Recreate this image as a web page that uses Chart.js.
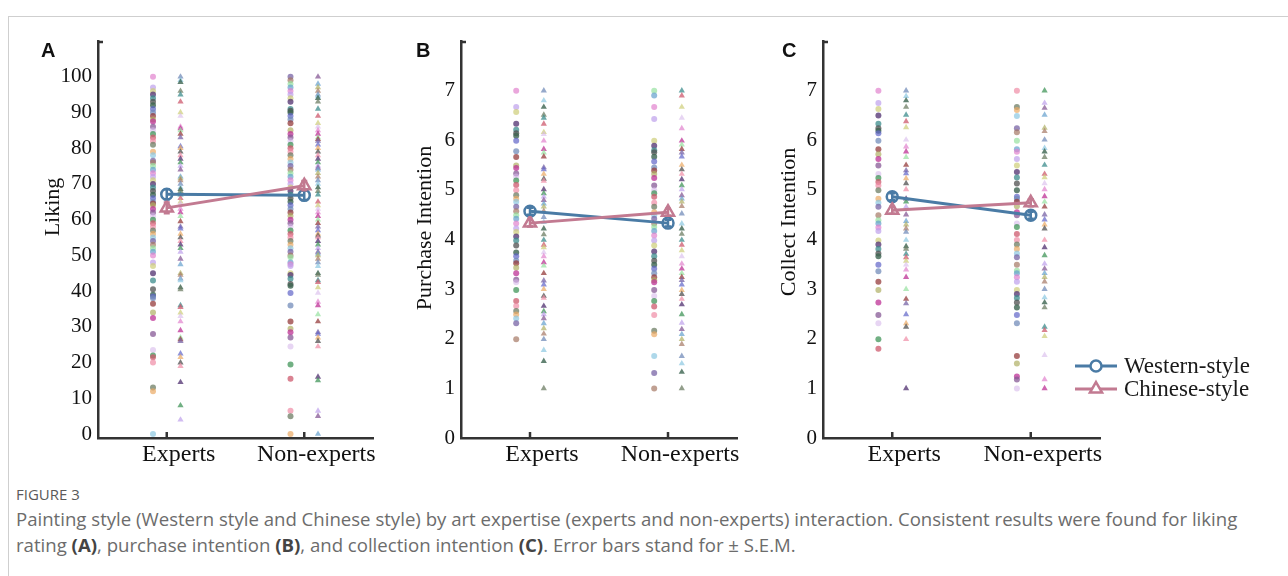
<!DOCTYPE html>
<html>
<head>
<meta charset="utf-8">
<script src="https://cdn.jsdelivr.net/npm/chart.js@4.4.1/dist/chart.umd.min.js"></script>
<style>
  body { margin: 0; background: #fff; }
  #page { position: relative; width: 1288px; height: 576px; overflow: hidden; }
  #frame { position: absolute; left: 8px; top: 16px; right: -4px; bottom: -4px;
           border-top: 1px solid #cfcfcf; border-left: 1px solid #cfcfcf; }
  canvas { position: absolute; top: 0; }
  .letter { position: absolute; top: 39px; font: bold 20px "Liberation Sans", Arial, sans-serif; color: #111; }
  #fig { position: absolute; left: 16px; top: 484px; font: 15px/20px "Open Sans", sans-serif; color: #5a5a5a; }
  #caption { position: absolute; left: 16px; top: 506px; font: 18.6px/26px "Open Sans", sans-serif;
             color: #6c6c6c; white-space: nowrap; }
  #caption b { color: #444; }
</style>
</head>
<body>
<div id="page">
  <div id="frame"></div>
  <canvas id="chartA" width="400" height="470" style="left:0px"></canvas>
  <canvas id="chartB" width="370" height="470" style="left:400px"></canvas>
  <canvas id="chartC" width="518" height="470" style="left:770px"></canvas>
  <div class="letter" style="left:41px">A</div>
  <div class="letter" style="left:416px">B</div>
  <div class="letter" style="left:782px">C</div>
  <div id="fig">FIGURE 3</div>
  <div id="caption">Painting style (Western style and Chinese style) by art expertise (experts and non-experts) interaction. Consistent results were found for liking<br>rating <b>(A)</b>, purchase intention <b>(B)</b>, and collection intention <b>(C)</b>. Error bars stand for ± S.E.M.</div>
</div>
<script>
const categories = ['Experts', 'Non-experts'];
const seriesNames = ['Western-style', 'Chinese-style'];

// Liking (A)
const likingWesternExperts = [100, 97, 96, 95, 94, 93, 92, 91, 90, 89, 88, 87.5, 86, 85, 84, 83, 82, 81, 79, 78, 76.5, 76, 75, 74, 73, 72, 71, 70, 69, 68, 67, 66, 65, 64.5, 64, 63, 62, 61, 60, 59, 58, 57, 56, 55, 54, 53, 52, 51, 50, 48, 47, 45, 43, 40.5, 39, 38.5, 38, 36.5, 34, 32.5, 28, 23.5, 22, 21.5, 20, 13, 12, 0];
const likingWesternNonExperts = [100, 99, 98, 97, 96, 95, 94, 93, 91, 90.5, 90, 89, 88, 87, 85, 84, 83, 82, 81, 80, 79, 78, 77, 76, 75, 74, 73, 72, 71, 70, 69, 68, 67, 66, 65, 64, 63, 62, 61, 60, 59, 58, 57, 56, 55, 54, 53, 52, 51, 50, 49.5, 48, 47.5, 47, 45, 44.5, 43.5, 42, 41.5, 39.5, 36, 31.5, 29.5, 28.5, 27, 24.5, 19.5, 15.5, 6.5, 5, 0];
const likingChineseExperts = [100, 99, 98.5, 96, 95, 93, 90, 89, 86, 85.5, 85, 84, 83, 80.5, 80, 79, 78, 77, 76, 75, 74, 72, 71.5, 71, 70, 69, 68.5, 68, 67, 66, 65, 64.5, 63, 62, 61, 59.5, 58, 57.5, 56, 55, 54, 53, 52, 51, 49, 47.5, 45, 44.5, 43.5, 43, 41, 40.5, 36, 35.5, 34, 33, 31.5, 29, 27, 26.5, 26, 22.5, 21.5, 20, 19, 14.5, 8, 4];
const likingChineseNonExperts = [100, 98, 97, 96, 95, 94.5, 94, 93, 91, 89, 87, 86, 85, 84, 83, 82.5, 82, 81, 80, 79, 78, 77, 76, 75, 74.5, 74, 73, 72, 71, 70, 69, 68, 67, 65, 64, 63, 62, 61, 60, 59, 58, 57, 56, 55.5, 55, 54, 53, 52, 51, 50.5, 50, 49, 48, 47, 45, 44.5, 43, 42.5, 41, 39.5, 37, 36, 33.5, 31.5, 28.5, 28, 27, 26, 24.5, 16, 15, 6.5, 5, 0];
const likingWesternMean = [67.1, 66.8];
const likingChineseMean = [63.3, 69.5];
const likingWesternSem = [1.4, 1.3];
const likingChineseSem = [1.5, 1.3];
const likingTicks = [0, 10, 20, 30, 40, 50, 60, 70, 80, 90, 100];

// Purchase intention (B)
const purchaseWesternExperts = [7, 6.67, 6.57, 6.33, 6.21, 6.14, 6.09, 5.99, 5.78, 5.66, 5.49, 5.44, 5.33, 5.27, 5.19, 5.1, 4.99, 4.89, 4.82, 4.76, 4.66, 4.57, 4.49, 4.42, 4.32, 4.22, 4.15, 4.06, 3.98, 3.88, 3.74, 3.66, 3.57, 3.52, 3.43, 3.32, 3.19, 3.14, 2.98, 2.76, 2.66, 2.56, 2.49, 2.41, 2.31, 1.99];
const purchaseWesternNonExperts = [7, 6.9, 6.67, 6.43, 5.99, 5.89, 5.8, 5.76, 5.67, 5.57, 5.45, 5.39, 5.32, 5.24, 5.09, 4.99, 4.93, 4.86, 4.74, 4.66, 4.55, 4.49, 4.42, 4.32, 4.25, 4.17, 4.08, 3.98, 3.88, 3.76, 3.66, 3.57, 3.49, 3.41, 3.32, 3.24, 3.18, 3.14, 2.98, 2.86, 2.76, 2.65, 2.48, 2.16, 2.09, 1.65, 1.31, 1];
const purchaseChineseExperts = [7, 6.8, 6.67, 6.51, 6.45, 6.33, 6.16, 6.12, 5.99, 5.82, 5.75, 5.67, 5.45, 5.41, 5.32, 5.22, 5.18, 5.01, 4.93, 4.86, 4.79, 4.72, 4.66, 4.57, 4.45, 4.35, 4.22, 4.1, 3.99, 3.89, 3.84, 3.74, 3.66, 3.54, 3.47, 3.32, 3.17, 3.09, 3, 2.86, 2.82, 2.66, 2.55, 2.49, 2.41, 2.31, 2.21, 2.1, 1.99, 1.77, 1.55, 1];
const purchaseChineseNonExperts = [7, 6.9, 6.67, 6.45, 6.24, 5.99, 5.91, 5.82, 5.75, 5.67, 5.5, 5.41, 5.32, 5.21, 5.09, 5.01, 4.89, 4.82, 4.76, 4.67, 4.52, 4.32, 4.22, 4.11, 3.99, 3.89, 3.78, 3.66, 3.51, 3.41, 3.32, 3.24, 3.18, 3.09, 2.98, 2.9, 2.8, 2.69, 2.49, 2.32, 2.19, 2.09, 1.99, 1.89, 1.65, 1.5, 1.33, 1];
const purchaseWesternMean = [4.57, 4.33];
const purchaseChineseMean = [4.33, 4.55];
const purchaseWesternSem = [0.07, 0.07];
const purchaseChineseSem = [0.07, 0.07];

// Collect intention (C)
const collectWesternExperts = [7, 6.75, 6.63, 6.5, 6.33, 6.24, 6.19, 6.14, 5.99, 5.82, 5.72, 5.62, 5.49, 5.32, 5.24, 5.16, 5.09, 4.99, 4.82, 4.74, 4.66, 4.49, 4.39, 4.32, 4.24, 4.17, 3.98, 3.9, 3.81, 3.72, 3.66, 3.49, 3.36, 3.15, 2.98, 2.73, 2.48, 2.31, 1.99, 1.8];
const collectWesternNonExperts = [7, 6.67, 6.61, 6.49, 6.24, 6.16, 5.99, 5.82, 5.77, 5.62, 5.49, 5.36, 5.25, 5.13, 4.99, 4.86, 4.82, 4.76, 4.67, 4.55, 4.49, 4.32, 4.25, 4.11, 3.99, 3.9, 3.81, 3.72, 3.64, 3.49, 3.37, 3.32, 3.24, 3.15, 2.98, 2.9, 2.82, 2.73, 2.63, 2.48, 2.31, 1.65, 1.5, 1.24, 1.18, 1];
const collectChineseExperts = [7, 6.89, 6.8, 6.67, 6.51, 6.38, 6.26, 6.01, 5.87, 5.77, 5.66, 5.5, 5.39, 5.33, 5.23, 5.13, 5.01, 4.82, 4.76, 4.66, 4.5, 4.37, 4.3, 4.22, 4.15, 3.99, 3.86, 3.81, 3.71, 3.64, 3.57, 3.49, 3.39, 3.24, 3, 2.8, 2.71, 2.49, 2.31, 2.24, 1.99, 1];
const collectChineseNonExperts = [7, 6.75, 6.65, 6.51, 6.25, 6.18, 6.01, 5.84, 5.77, 5.66, 5.5, 5.32, 5.25, 5.13, 5.01, 4.87, 4.76, 4.66, 4.5, 4.4, 4.3, 4.22, 3.99, 3.84, 3.68, 3.51, 3.41, 3.32, 3.24, 3.15, 3, 2.83, 2.73, 2.63, 2.24, 2.17, 2.05, 1.67, 1.18, 1];
const collectWesternMean = [4.86, 4.49];
const collectChineseMean = [4.59, 4.74];
const collectWesternSem = [0.07, 0.07];
const collectChineseSem = [0.07, 0.07];

const sevenPointTicks = [0, 1, 2, 3, 4, 5, 6, 7];

const westernColor = '#4a7ba5';
const chineseColor = '#c27a91';
const palette = [
  'rgba(90,60,120,0.8)', 'rgba(175,175,100,0.7)', 'rgba(110,125,100,0.75)', 'rgba(225,130,205,0.7)',
  'rgba(95,100,200,0.7)', 'rgba(65,150,90,0.75)', 'rgba(165,120,100,0.7)', 'rgba(60,140,140,0.75)',
  'rgba(190,50,150,0.75)', 'rgba(235,170,100,0.7)', 'rgba(190,160,235,0.7)', 'rgba(115,140,185,0.75)',
  'rgba(205,90,110,0.75)', 'rgba(150,225,160,0.7)', 'rgba(80,80,80,0.75)', 'rgba(135,90,150,0.75)',
  'rgba(140,200,225,0.7)', 'rgba(205,205,120,0.7)', 'rgba(150,60,60,0.75)', 'rgba(240,140,165,0.7)',
  'rgba(100,160,205,0.7)', 'rgba(60,100,80,0.8)', 'rgba(215,185,235,0.6)', 'rgba(120,100,165,0.75)'
];

const serif = '"Liberation Serif", "Times New Roman", serif';

const yTitlePlugin = {
  id: 'yTitle',
  afterDraw(chart, args, opts) {
    if (!opts.text) return;
    const ctx = chart.ctx;
    ctx.save();
    ctx.translate(opts.x, opts.y);
    ctx.rotate(-Math.PI / 2);
    ctx.font = '22px ' + serif;
    ctx.fillStyle = '#111';
    ctx.textAlign = 'center';
    ctx.textBaseline = 'middle';
    ctx.fillText(opts.text, 0, 0);
    ctx.restore();
  }
};

// error bars on the means plus the small inward axis ticks
const extrasPlugin = {
  id: 'extras',
  afterDatasetsDraw(chart, args, opts) {
    const {ctx, chartArea, scales: {x, y}} = chart;
    ctx.save();
    (opts.bars || []).forEach(b => {
      ctx.strokeStyle = b.color;
      ctx.lineWidth = 2.5;
      b.mean.forEach((m, i) => {
        const px = x.getPixelForValue(i + 1);
        const top = y.getPixelForValue(m + b.sem[i]);
        const bot = y.getPixelForValue(m - b.sem[i]);
        ctx.beginPath();
        ctx.moveTo(px, top); ctx.lineTo(px, bot);
        ctx.moveTo(px - 3, top); ctx.lineTo(px + 3, top);
        ctx.moveTo(px - 3, bot); ctx.lineTo(px + 3, bot);
        ctx.stroke();
      });
    });
    ctx.strokeStyle = '#333';
    ctx.lineWidth = 2.5;
    [1, 2].forEach(v => {
      const px = x.getPixelForValue(v);
      ctx.beginPath();
      ctx.moveTo(px, chartArea.bottom);
      ctx.lineTo(px, chartArea.bottom - 6);
      ctx.stroke();
    });
    ctx.beginPath();
    ctx.moveTo(chartArea.left, chartArea.top + 1);
    ctx.lineTo(chartArea.left + 5, chartArea.top + 1);
    ctx.stroke();
    ctx.restore();
  }
};

const legendPlugin = {
  id: 'styleLegend',
  afterDraw(chart, args, opts) {
    if (!opts.items) return;
    const ctx = chart.ctx;
    ctx.save();
    opts.items.forEach((it, i) => {
      const y = opts.y + i * opts.gap;
      ctx.strokeStyle = it.color;
      ctx.lineWidth = 3;
      ctx.beginPath();
      ctx.moveTo(opts.x, y);
      ctx.lineTo(opts.x + 42, y);
      ctx.stroke();
      ctx.fillStyle = '#fff';
      ctx.lineWidth = 2.5;
      Chart.helpers.drawPoint(ctx, {pointStyle: it.style, radius: it.radius, borderWidth: 2.5, rotation: 0}, opts.x + 21, y);
      ctx.fillStyle = '#1a1a1a';
      ctx.font = '23px ' + serif;
      ctx.textAlign = 'left';
      ctx.textBaseline = 'middle';
      ctx.fillText(it.text, opts.x + 49, y + 1);
    });
    ctx.restore();
  }
};

function column(values, x) {
  return values.map(v => ({x: x, y: v}));
}

function makePanel(p) {
  const datasets = [
    {
      data: p.chineseMean.map((v, i) => ({x: i + 1, y: v})),
      showLine: true, borderColor: chineseColor, borderWidth: 3,
      pointStyle: 'triangle', pointRadius: 7, pointBorderWidth: 2.5,
      pointBorderColor: chineseColor, pointBackgroundColor: 'rgba(255,255,255,0)'
    },
    {
      data: p.westernMean.map((v, i) => ({x: i + 1, y: v})),
      showLine: true, borderColor: westernColor, borderWidth: 3,
      pointStyle: 'circle', pointRadius: 5.5, pointBorderWidth: 2.5,
      pointBorderColor: westernColor, pointBackgroundColor: 'rgba(255,255,255,0)'
    },
    {
      data: column(p.westernExperts, 0.9).concat(column(p.westernNonExperts, 1.9)),
      pointStyle: 'circle', pointRadius: 3, borderWidth: 0,
      backgroundColor: c => palette[(c.dataIndex * 7 + 3) % palette.length]
    },
    {
      data: column(p.chineseExperts, 1.1).concat(column(p.chineseNonExperts, 2.1)),
      pointStyle: 'triangle', pointRadius: 3.6, borderWidth: 0,
      backgroundColor: c => palette[(c.dataIndex * 5 + 11) % palette.length]
    }
  ];

  new Chart(document.getElementById(p.id), {
    type: 'scatter',
    data: {datasets: datasets},
    plugins: [yTitlePlugin, extrasPlugin, legendPlugin],
    options: {
      responsive: false,
      animation: false,
      devicePixelRatio: 1,
      layout: {padding: {top: 41, right: p.padRight, left: 0, bottom: 0}},
      plugins: {
        legend: {display: false},
        tooltip: {enabled: false},
        yTitle: {text: p.title, x: p.titleX, y: p.titleY},
        extras: {bars: [
          {mean: p.westernMean, sem: p.westernSem, color: westernColor},
          {mean: p.chineseMean, sem: p.chineseSem, color: chineseColor}
        ]},
        styleLegend: p.legend || {}
      },
      scales: {
        x: {
          type: 'linear', min: 0.5, max: 2.5,
          afterBuildTicks: axis => { axis.ticks = [{value: 1}, {value: 2}]; },
          afterFit: axis => { axis.height = 32; },
          grid: {display: false, drawTicks: false},
          border: {display: true, color: '#333', width: 2.5},
          ticks: {
            padding: 2, color: '#111', maxRotation: 0, labelOffset: 12,
            font: {family: serif, size: 24},
            callback: v => categories[v - 1]
          }
        },
        y: {
          min: p.yMin, max: p.yMax,
          afterBuildTicks: axis => { axis.ticks = p.yTicks.map(v => ({value: v})); },
          afterFit: axis => { axis.width = p.yAxisWidth; },
          grid: {display: false, drawTicks: false},
          border: {display: true, color: '#333', width: 2.5},
          ticks: {padding: 6, color: '#111', font: {family: serif, size: 21}}
        }
      }
    }
  });
}

makePanel({
  id: 'chartA', title: 'Liking', titleX: 53, titleY: 207,
  yMin: -1.1, yMax: 110, yTicks: likingTicks, yAxisWidth: 98, padRight: 27,
  westernExperts: likingWesternExperts, westernNonExperts: likingWesternNonExperts,
  chineseExperts: likingChineseExperts, chineseNonExperts: likingChineseNonExperts,
  westernMean: likingWesternMean, chineseMean: likingChineseMean,
  westernSem: likingWesternSem, chineseSem: likingChineseSem
});

makePanel({
  id: 'chartB', title: 'Purchase Intention', titleX: 25, titleY: 228,
  yMin: 0, yMax: 8, yTicks: sevenPointTicks, yAxisWidth: 61, padRight: 33,
  westernExperts: purchaseWesternExperts, westernNonExperts: purchaseWesternNonExperts,
  chineseExperts: purchaseChineseExperts, chineseNonExperts: purchaseChineseNonExperts,
  westernMean: purchaseWesternMean, chineseMean: purchaseChineseMean,
  westernSem: purchaseWesternSem, chineseSem: purchaseChineseSem
});

makePanel({
  id: 'chartC', title: 'Collect Intention', titleX: 19, titleY: 222,
  yMin: 0, yMax: 8, yTicks: sevenPointTicks, yAxisWidth: 53, padRight: 188,
  westernExperts: collectWesternExperts, westernNonExperts: collectWesternNonExperts,
  chineseExperts: collectChineseExperts, chineseNonExperts: collectChineseNonExperts,
  westernMean: collectWesternMean, chineseMean: collectChineseMean,
  westernSem: collectWesternSem, chineseSem: collectChineseSem,
  legend: {
    x: 305, y: 366, gap: 23,
    items: [
      {text: seriesNames[0], color: westernColor, style: 'circle', radius: 5.5},
      {text: seriesNames[1], color: chineseColor, style: 'triangle', radius: 7}
    ]
  }
});
</script>
</body>
</html>
